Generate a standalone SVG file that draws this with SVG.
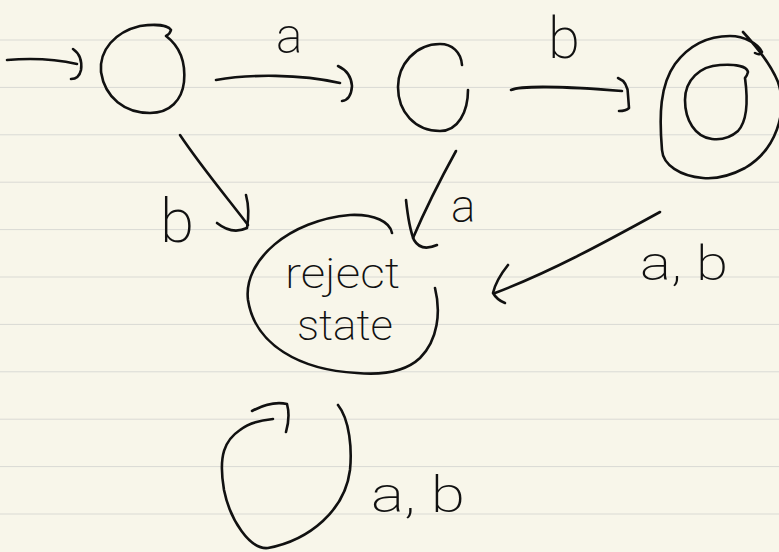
<svg xmlns="http://www.w3.org/2000/svg" width="779" height="552" viewBox="0 0 779 552">
  <style>
    .ink { fill: none; stroke: #111; stroke-width: 2.6; stroke-linecap: round; stroke-linejoin: round; }
    .rule { stroke: #d9d9d4; stroke-width: 2; }
    .lbl { font-family: Roboto, Lato, "Open Sans", "Liberation Sans", sans-serif; font-weight: 200; fill: #111; }
  </style>
  <defs>
    <pattern id="ruled" x="0" y="39.5" width="779" height="47.4" patternUnits="userSpaceOnUse">
      <line class="rule" x1="0" y1="0" x2="779" y2="0"/>
    </pattern>
  </defs>

  <!-- paper -->
  <rect width="779" height="552" fill="#f8f6ea"/>
  <rect width="779" height="552" fill="url(#ruled)"/>

  <!-- states -->
  <g id="q0">
    <path class="ink" d="M166,36 C178,45 186,60 184,82 C182,100 170,113 150,113 C125,113 105,98 101,72 C99,50 115,32 140,26 C155,24 168,25 171,30 Q170,34 166,36"/>
  </g>
  <g id="q1">
    <path class="ink" d="M462,65 C461,52 452,44 440,44 C415,44 398,65 398,87 C398,112 415,131 440,131 C458,131 468,112 468,90"/>
  </g>
  <g id="q2">
    <path class="ink" d="M743,32 C755,45 770,62 778,82 C788,112 776,150 745,168 C730,176 715,179 703,178 C680,176 663,165 662,150 C659,115 660,85 675,64 C690,44 710,36 730,36 C745,36 758,44 762,52 Q760,56 755,53"/>
    <path class="ink" d="M745,78 C748,100 748,120 738,131 C730,138 720,140 712,139 C695,137 685,120 685,100 C685,80 700,66 720,65 C735,64 747,66 748,72 Q747,76 745,78"/>
  </g>
  <g id="reject">
    <path class="ink" d="M435,288 C441,312 438,340 420,358 C405,372 380,375 357,373 C300,370 255,345 248,300 C243,260 290,220 350,215 C375,214 390,222 392,233"/>
    <text class="lbl" x="285" y="288" font-size="42" textLength="115" lengthAdjust="spacingAndGlyphs">reject</text>
    <text class="lbl" x="297" y="340" font-size="42" textLength="96" lengthAdjust="spacingAndGlyphs">state</text>
  </g>

  <!-- transitions -->
  <g id="edges">
    <!-- start -->
    <path class="ink" d="M7,60 C30,58 55,59 77,64"/>
    <path class="ink" d="M73,49 Q83,56 81,70 Q79,79 71,79"/>
    <!-- q0 -a-> q1 -->
    <path class="ink" d="M216,80 C250,74 300,74 340,83"/>
    <path class="ink" d="M338,66 Q351,72 352,86 Q351,100 342,101"/>
    <!-- q1 -b-> q2 -->
    <path class="ink" d="M511,90 C520,86 560,86 622,91"/>
    <path class="ink" d="M618,78 Q628,82 628,95 L629,108 Q626,111 619,111"/>
    <!-- q0 -b-> reject -->
    <path class="ink" d="M180,135 C200,165 225,195 248,225"/>
    <path class="ink" d="M217,223 Q232,235 247,228 Q250,210 246,195"/>
    <!-- q1 -a-> reject -->
    <path class="ink" d="M456,151 C440,180 425,210 413,238"/>
    <path class="ink" d="M406,200 Q409,228 414,240 Q421,252 437,245"/>
    <!-- q2 -a,b-> reject -->
    <path class="ink" d="M660,212 C600,245 550,272 495,293"/>
    <path class="ink" d="M508,265 Q496,280 493,293 Q497,300 505,303"/>
    <!-- reject self loop -->
    <path class="ink" d="M338,405 C350,420 352,450 350,470 C345,510 310,540 268,548 C250,550 230,520 224,490 C218,455 225,440 240,430 C250,422 262,420 273,419"/>
    <path class="ink" d="M252,411 C265,404 278,402 287,404 C290,415 288,425 286,432"/>

    <text class="lbl" x="276" y="53" font-size="50">a</text>
    <text class="lbl" x="548" y="58" font-size="58">b</text>
    <text class="lbl" x="160" y="242" font-size="62">b</text>
    <text class="lbl" x="451" y="222" font-size="46">a</text>
    <text class="lbl" x="640" y="280" font-size="48" textLength="88" lengthAdjust="spacingAndGlyphs">a, b</text>
    <text class="lbl" x="371" y="512" font-size="50" textLength="94" lengthAdjust="spacingAndGlyphs">a, b</text>
  </g>
</svg>
